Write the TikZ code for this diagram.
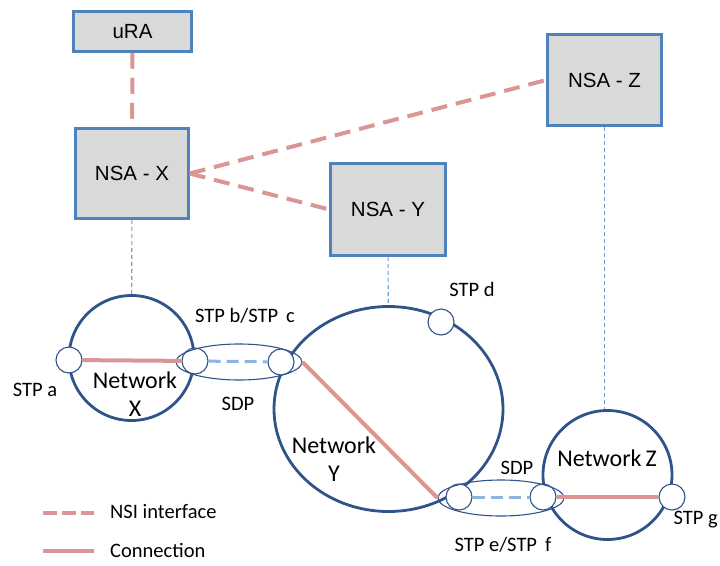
\documentclass[tikz,border=0pt]{standalone}
\usepackage{fontspec}
\setmainfont{Carlito}
\newfontfamily\boxfont{Liberation Sans}
\usepackage{xcolor}
\usetikzlibrary{shapes.geometric}
\definecolor{nsired}{RGB}{217,150,148}
\definecolor{netblue}{RGB}{46,84,137}
\definecolor{boxblue}{RGB}{79,129,189}
\definecolor{boxgray}{RGB}{217,217,217}
\definecolor{sdpblue}{RGB}{141,180,226}
\definecolor{dotblue}{RGB}{108,155,213}
\tikzset{
  nsa/.style={
    draw=boxblue, line width=2.5pt, fill=boxgray,
    font=\boxfont\fontsize{20.5}{24}\selectfont, inner sep=0pt
  },
  network/.style={draw=netblue, line width=2.8pt, inner sep=0pt},
  stp/.style={
    draw=netblue, line width=1.1pt, circle, fill=white,
    minimum size=26pt, inner sep=0pt
  },
  sdp/.style={
    draw=netblue, line width=1.1pt, ellipse,
    minimum width=126pt, minimum height=36pt, inner sep=0pt
  },
  nsi/.style={draw=nsired, line width=4pt, dash pattern=on 16pt off 9pt},
  conn/.style={draw=nsired, line width=4pt},
  sdplink/.style={draw=sdpblue, line width=3pt, dash pattern=on 12pt off 6pt},
  ctrl/.style={draw=dotblue, line width=1.1pt, dash pattern=on 4pt off 3pt},
  lbl/.style={font=\fontsize{20.5}{24}\selectfont, inner sep=0pt},
  netlbl/.style={font=\fontsize{24}{28}\selectfont, align=center, inner sep=0pt},
}

\begin{document}
\begin{tikzpicture}[x=1pt, y=-1pt]
  \useasboundingbox (0,0) rectangle (720,565);

  \node[nsa, minimum width=118pt, minimum height=40pt] (ura)  at (132.5,31.5) {uRA};
  \node[nsa, minimum width=113pt, minimum height=90pt] (nsax) at (132,173.5)  {NSA - X\hspace{8pt}};
  \node[nsa, minimum width=115pt, minimum height=92pt] (nsay) at (388,209.5)  {NSA - Y\hspace{10pt}};
  \node[nsa, minimum width=114pt, minimum height=91pt] (nsaz) at (604.5,80)   {NSA - Z\hspace{8pt}};

  \node[network, circle, minimum size=125pt] (netx) at (131.5,358) {};
  \node[network, ellipse, minimum width=229pt, minimum height=205pt] (nety) at (388.5,409) {};
  \node[network, circle, minimum size=129pt] (netz) at (607.5,475) {};

  \node[netlbl] at (135,394) {Network\\X};
  \node[netlbl] at (334,459) {Network\\Y};
  \node[netlbl] at (607,458) {Network\,Z};

  \node[stp] (stpa) at (69,360)  {};
  \node[stp] (stpb) at (195,361) {};
  \node[stp] (stpc) at (281,362) {};
  \node[stp] (stpd) at (441,322) {};
  \node[stp] (stpe) at (459,497) {};
  \node[stp] (stpf) at (543,497) {};
  \node[stp] (stpg) at (672,497) {};

  \node[sdp] (sdpbc) at (239,362) {};
  \node[sdp] (sdpef) at (501,498) {};

  \draw[ctrl] (nsax) -- (netx);
  \draw[ctrl] (nsay) -- (nety);
  \draw[ctrl] (nsaz) -- (nsaz.south |- netz.north);

  \draw[nsi] (ura) -- (nsax);
  \draw[nsi] (nsax.east) -- (nsaz.west);
  \draw[nsi] (nsax.east) -- (nsay.west);

  \draw[conn] (stpa) -- (stpb);
  \draw[conn] (sdpbc.east) -- (sdpef.west);
  \draw[conn] (stpf) -- (stpg);
  \draw[sdplink] (stpb) -- (stpc);
  \draw[sdplink] (stpe) -- (stpf);

  \node[lbl] at (35,390)  {STP a};
  \node[lbl] at (245,316) {STP b/STP\, c};
  \node[lbl] at (238,404) {SDP};
  \node[lbl] at (472,289) {STP d};
  \node[lbl] at (517,468) {SDP};
  \node[lbl] at (503,545) {STP e/STP\, f};
  \node[lbl, anchor=east] at (718,520) {STP g};

  \coordinate (nsi1) at (43,513);
  \coordinate (nsi2) at (94,513);
  \coordinate (con1) at (43,551);
  \coordinate (con2) at (94,551);
  \draw[nsired, line width=4pt, dash pattern=on 14pt off 5pt] (nsi1) -- (nsi2);
  \draw[conn] (con1) -- (con2);
  \node[lbl, anchor=west] at (110,512) {NSI interface};
  \node[lbl, anchor=west] at (110,550) {Connection};
\end{tikzpicture}
\end{document}
